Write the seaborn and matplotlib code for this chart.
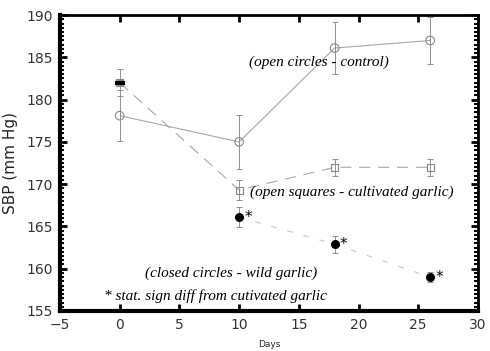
import matplotlib
matplotlib.use("Agg")
import matplotlib.pyplot as plt
import seaborn as sns
import pandas as pd
from matplotlib.ticker import MultipleLocator

days = [0, 10, 18, 26]
control = [178.1, 175.0, 186.1, 187.0]
control_err = [3.0, 3.2, 3.1, 2.8]
cultivated = [182.0, 169.3, 172.0, 172.0]
cultivated_err = [1.6, 1.2, 1.0, 1.0]
wild = [182.0, 166.1, 162.9, 159.0]
wild_err = [0.3, 1.2, 1.0, 0.6]

sns.set_theme(style="ticks")
plt.rcParams['font.family'] = ['DejaVu Sans']

fig = plt.figure(figsize=(4.9, 3.51), dpi=100)
ax = fig.add_axes([0.1224, 0.114, 0.853, 0.843])

df = pd.DataFrame({
    "Days": days * 3,
    "SBP": control + cultivated + wild,
    "err": control_err + cultivated_err + wild_err,
    "group": ["control"] * 4 + ["cultivated"] * 4 + ["wild"] * 4,
})

line_styles = {"control": (0, ()), "cultivated": (0, (10, 7)), "wild": (0, (5, 10))}
line_colors = {"control": "#a8a8a8", "cultivated": "#a8a8a8", "wild": "#c8c8c8"}
for g, sub in df.groupby("group"):
    line_sub = sub.iloc[1:] if g == "wild" else sub
    sns.lineplot(data=line_sub, x="Days", y="SBP", ax=ax, color=line_colors[g],
                 linestyle=line_styles[g], linewidth=0.8, legend=False, zorder=2)
    ax.errorbar(sub["Days"], sub["SBP"], yerr=sub["err"], fmt="none",
                ecolor="#909090", elinewidth=0.7, capsize=2, capthick=0.7, zorder=3)

c = df[df.group == "control"]
ax.scatter(c["Days"], c["SBP"], s=38, facecolors="none", edgecolors="#888888",
           linewidths=0.8, zorder=4)
cu = df[df.group == "cultivated"]
ax.scatter(cu["Days"], cu["SBP"], s=26, marker="s", facecolors="none",
           edgecolors="#888888", linewidths=0.8, zorder=4)
w = df[df.group == "wild"]
ax.scatter(w["Days"][1:], w["SBP"][1:], s=30, color="black", zorder=5)
ax.scatter(w["Days"][:1], w["SBP"][:1], s=50, marker="_", color="black",
           linewidths=3, zorder=5)
for x, y in zip(w["Days"][1:], w["SBP"][1:]):
    ax.text(x + 0.45, y, "*", fontsize=11, va="center", ha="left", color="black")

ax.set_xlim(-5, 30)
ax.set_ylim(155, 190)
ax.xaxis.set_major_locator(MultipleLocator(5))
ax.yaxis.set_major_locator(MultipleLocator(5))
ax.yaxis.set_minor_locator(MultipleLocator(0.5))
ax.tick_params(axis="both", which="both", direction="in", top=True, right=True,
               color="black")
ax.tick_params(axis="both", which="major", length=5, width=2, labelsize=10,
               labelcolor="#333333", pad=5)
ax.tick_params(axis="y", which="minor", length=3, width=1.5)
for s in ax.spines.values():
    s.set_linewidth(2)
    s.set_color("black")
ax.spines["left"].set_linewidth(3)
ax.spines["bottom"].set_linewidth(3)

ax.set_xlabel("Days", fontsize=6.5, labelpad=6)
ax.set_ylabel("SBP (mm Hg)", fontsize=11, labelpad=6)

script = dict(family=["Liberation Serif", "DejaVu Serif"], style="italic",
              fontsize=11, color="black")
ax.text(10.8, 184.4, "(open circles - control)", va="center", ha="left", **script)
ax.text(10.9, 169.0, "(open squares - cultivated garlic)", va="center", ha="left", **script)
ax.text(2.1, 159.5, "(closed circles - wild garlic)", va="center", ha="left", **script)
ax.text(-1.3, 156.8, "* stat. sign diff from cutivated garlic", va="center", ha="left", **script)

fig.savefig("out.png", dpi=100)
